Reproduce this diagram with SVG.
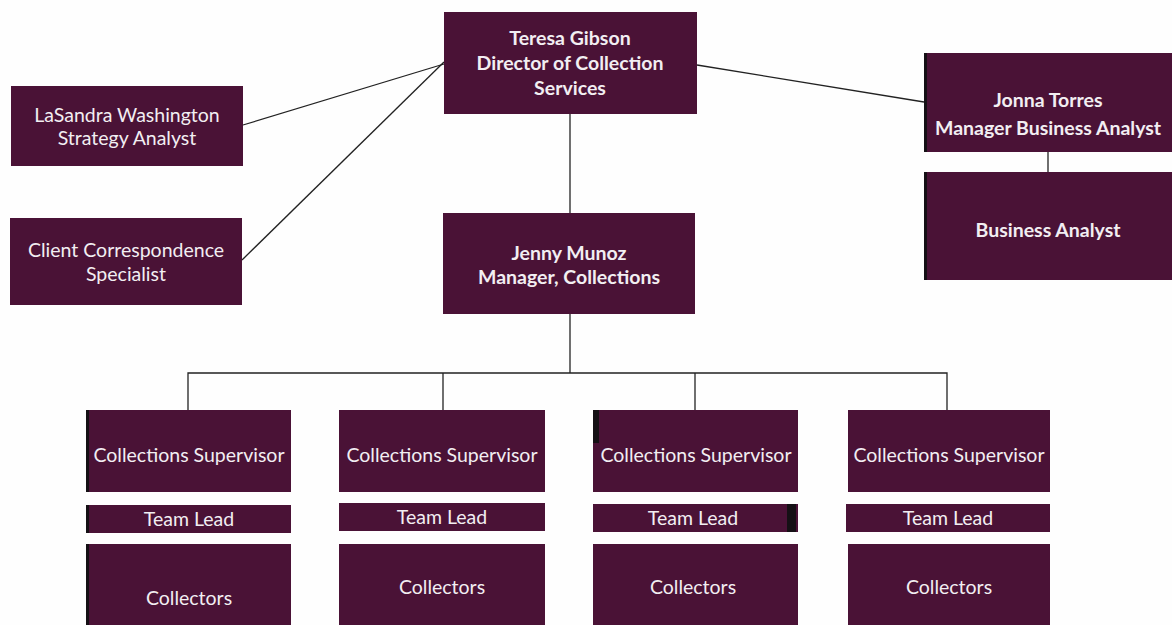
<svg xmlns="http://www.w3.org/2000/svg" width="1172" height="625" viewBox="0 0 1172 625">
<style>
.box{fill:#4a1236}
.blk{fill:#151015}
text{font-family:Lato,"Open Sans",sans-serif;fill:#f2eef2;text-anchor:middle;font-size:19.5px}
.b{font-weight:bold}
.c line,.c polyline{stroke:#222;stroke-width:1.3;fill:none}
</style>
<rect width="1172" height="625" fill="#fefefe"/>
<g class="c" id="connectors">
<line x1="243" y1="125" x2="444" y2="64"/>
<line x1="242" y1="260" x2="444" y2="62"/>
<line x1="697" y1="65" x2="924" y2="102"/>
<line x1="570" y1="114" x2="570" y2="213"/>
<line x1="1048" y1="152" x2="1048" y2="172"/>
<line x1="570" y1="314" x2="570" y2="373"/>
<polyline points="188,410 188,373 947,373 947,410"/>
<line x1="443" y1="373" x2="443" y2="410"/>
<line x1="695" y1="373" x2="695" y2="410"/>
</g>
<g id="teresa"><rect class="box" x="444" y="12" width="253" height="102"/>
<text class="b" x="570" y="45">Teresa Gibson</text>
<text class="b" x="570" y="70">Director of Collection</text>
<text class="b" x="570" y="95">Services</text></g>
<g id="lasandra"><rect class="box" x="11" y="86" width="232" height="80"/>
<text x="127" y="122">LaSandra Washington</text>
<text x="127" y="145">Strategy Analyst</text></g>
<g id="client"><rect class="box" x="10" y="218" width="232" height="87"/>
<text x="126" y="257">Client Correspondence</text>
<text x="126" y="281">Specialist</text></g>
<g id="jenny"><rect class="box" x="443" y="213" width="252" height="101"/>
<text class="b" x="569" y="260">Jenny Munoz</text>
<text class="b" x="569" y="284">Manager, Collections</text></g>
<g id="jonna"><rect class="box" x="924" y="53" width="248" height="99"/>
<rect class="blk" x="924" y="53" width="3" height="99"/>
<text class="b" x="1048" y="107">Jonna Torres</text>
<text class="b" x="1048" y="135">Manager Business Analyst</text></g>
<g id="ba"><rect class="box" x="924" y="172" width="248" height="108"/>
<rect class="blk" x="924" y="172" width="3" height="108"/>
<text class="b" x="1048" y="237">Business Analyst</text></g>
<g id="sup1"><rect class="box" x="87" y="410" width="204" height="82"/>
<rect class="blk" x="86" y="410" width="3" height="82"/>
<text x="189" y="462">Collections Supervisor</text></g>
<g id="tl1"><rect class="box" x="87" y="505" width="204" height="28"/>
<rect class="blk" x="86" y="505" width="3" height="28"/>
<text x="189" y="526">Team Lead</text></g>
<g id="col1"><rect class="box" x="87" y="544" width="204" height="81"/>
<rect class="blk" x="86" y="544" width="3" height="81"/>
<text x="189" y="605">Collectors</text></g>
<g id="sup2"><rect class="box" x="339" y="410" width="206" height="82"/>
<text x="442" y="462">Collections Supervisor</text></g>
<g id="tl2"><rect class="box" x="339" y="503" width="206" height="28"/>
<text x="442" y="524">Team Lead</text></g>
<g id="col2"><rect class="box" x="339" y="544" width="206" height="81"/>
<text x="442" y="594">Collectors</text></g>
<g id="sup3"><rect class="box" x="593" y="410" width="205" height="82"/>
<rect class="blk" x="593" y="410" width="6" height="33"/>
<text x="696" y="462">Collections Supervisor</text></g>
<g id="tl3"><rect class="box" x="593" y="504" width="205" height="28"/>
<rect class="blk" x="787" y="504" width="9" height="28"/>
<text x="693" y="525">Team Lead</text></g>
<g id="col3"><rect class="box" x="593" y="544" width="205" height="81"/>
<text x="693" y="594">Collectors</text></g>
<g id="sup4"><rect class="box" x="848" y="410" width="202" height="82"/>
<text x="949" y="462">Collections Supervisor</text></g>
<g id="tl4"><rect class="box" x="846" y="504" width="204" height="28"/>
<text x="948" y="525">Team Lead</text></g>
<g id="col4"><rect class="box" x="848" y="544" width="202" height="81"/>
<text x="949" y="594">Collectors</text></g>
</svg>
